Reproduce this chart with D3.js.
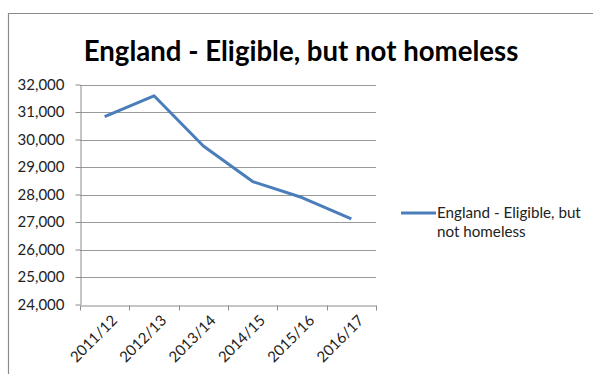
<!DOCTYPE html>
<html>
<head>
<meta charset="utf-8">
<script src="https://cdnjs.cloudflare.com/ajax/libs/d3/7.8.5/d3.min.js"></script>
<style>
  html, body { margin: 0; padding: 0; background: #fff; }
  svg { display: block; font-family: Lato, "Open Sans", sans-serif; }
</style>
</head>
<body>
<svg id="chart" width="593" height="374"></svg>
<script>
const years = ['2011/12', '2012/13', '2013/14', '2014/15', '2015/16', '2016/17']
const eligible = [30830, 31590, 29765, 28470, 27890, 27110]
const yTicks = [24000, 25000, 26000, 27000, 28000, 29000, 30000, 31000, 32000]
const seriesName = 'England - Eligible, but not homeless'

const svg = d3.select('#chart')

// chart frame (only top and left edges visible in the crop)
svg.append('path')
  .attr('d', 'M8.5,374 V13.5 H593')
  .attr('fill', 'none')
  .attr('stroke', '#8c8c8c')
  .attr('stroke-width', 1.2)

svg.append('text')
  .attr('x', 301)
  .attr('y', 61)
  .attr('text-anchor', 'middle')
  .style('font-size', '27.6px')
  .style('font-weight', 'bold')
  .attr('fill', '#000')
  .text(seriesName)

const x = d3.scaleBand().domain(years).range([80, 376])
const y = d3.scaleLinear().domain([24000, 32000]).range([304.5, 84.5])

// gridlines
svg.append('g')
  .selectAll('line')
  .data(yTicks.slice(1))
  .join('line')
  .attr('x1', 80).attr('x2', 376)
  .attr('y1', d => Math.round(y(d)) + 0.5)
  .attr('y2', d => Math.round(y(d)) + 0.5)
  .attr('stroke', '#9a9a9a')

const yAxis = svg.append('g')
  .attr('transform', 'translate(80.5,0)')
  .call(d3.axisLeft(y).tickValues(yTicks).tickFormat(d3.format(',')).tickSize(5).tickSizeOuter(0))
yAxis.select('.domain').attr('stroke', '#8c8c8c')
yAxis.selectAll('.tick line').attr('stroke', '#8c8c8c')
yAxis.selectAll('.tick text')
  .attr('x', -16)
  .attr('fill', '#222')
  .style('font-size', '15px')
  .style('font-family', 'Lato, sans-serif')

const xAxis = svg.append('g')
  .attr('transform', 'translate(0,' + (Math.round(y(24000)) + 0.5) + ')')
  .call(d3.axisBottom(x).tickSize(0).tickSizeOuter(0))
xAxis.select('.domain').attr('stroke', '#8c8c8c')
xAxis.selectAll('.tick text').remove()

// category boundary ticks
const bounds = years.map(d => x(d)).concat([x.range()[1]])
xAxis.selectAll('.bound')
  .data(bounds)
  .join('line')
  .attr('class', 'bound')
  .attr('x1', d => Math.round(d) + 0.5).attr('x2', d => Math.round(d) + 0.5)
  .attr('y1', 0).attr('y2', 5)
  .attr('stroke', '#8c8c8c')

svg.append('g')
  .selectAll('text')
  .data(years)
  .join('text')
  .attr('transform', d => 'translate(' + (x(d) + x.bandwidth() / 2 + 6) + ',' + 314 + ') rotate(-45)')
  .attr('text-anchor', 'end')
  .attr('dy', '0.7em')
  .attr('fill', '#222')
  .style('font-size', '15px')
  .text(d => d)

const line = d3.line()
  .x((d, i) => x(years[i]) + x.bandwidth() / 2)
  .y(d => y(d))

svg.append('path')
  .datum(eligible)
  .attr('d', line)
  .attr('fill', 'none')
  .attr('stroke', '#4a7ebb')
  .attr('stroke-width', 3)
  .attr('stroke-linejoin', 'round')

// legend
svg.append('line')
  .attr('x1', 401).attr('x2', 436)
  .attr('y1', 213).attr('y2', 213)
  .attr('stroke', '#4a7ebb')
  .attr('stroke-width', 3)

const legText = svg.append('text')
  .attr('x', 437)
  .attr('y', 218)
  .attr('fill', '#222')
  .style('font-size', '15.2px')
legText.append('tspan').attr('x', 437).text('England - Eligible, but')
legText.append('tspan').attr('x', 437).attr('dy', 19).text('not homeless')
</script>
</body>
</html>
